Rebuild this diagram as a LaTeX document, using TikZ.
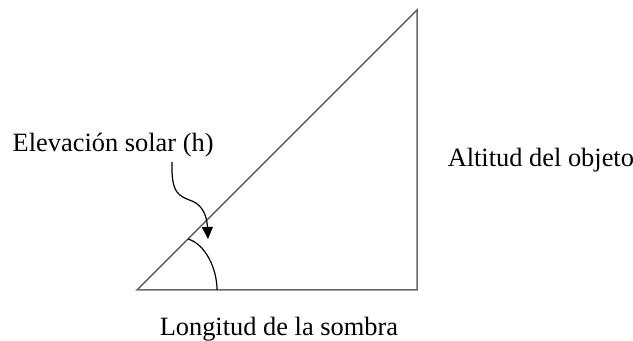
\documentclass[tikz,border=0pt]{standalone}
\usepackage{fontspec}
\setmainfont{Liberation Serif}
\usetikzlibrary{arrows.meta}
\definecolor{sidegray}{RGB}{105,105,105}
\begin{document}
\begin{tikzpicture}[x=.5pt,y=-.5pt,>={Triangle[length=6pt,width=5.5pt]},line width=.75pt,font=\fontsize{13.2pt}{15pt}\selectfont]
  \useasboundingbox (0,0) rectangle (633,341);
  \coordinate (a) at (137,290);
  \coordinate (b) at (417,290);
  \coordinate (c) at (417,10);
  \coordinate (h1) at (188,239);
  \coordinate (h2) at (217,290);
  \coordinate (s) at (172,162);
  \coordinate (m) at (192,201);
  \coordinate (e) at (208,239);
  \draw[sidegray] (a)--(b)--(c)--cycle;
  \draw[line width=.6pt] (h1) .. controls (205,244) and (217,268) .. (h2);
  \draw[->,line width=.6pt] (s) .. controls (171,194) and (179,196) .. (m)
    .. controls (204,206) and (207,218) .. (e);
  \node[anchor=base west,inner sep=0] (elev) at (12,152) {Elevación solar (h)};
  \node[anchor=base west,inner sep=0] (alt) at (447,167) {Altitud del objeto};
  \node[anchor=base west,inner sep=0] (lon) at (159,336) {Longitud de la sombra};
\end{tikzpicture}
\end{document}
